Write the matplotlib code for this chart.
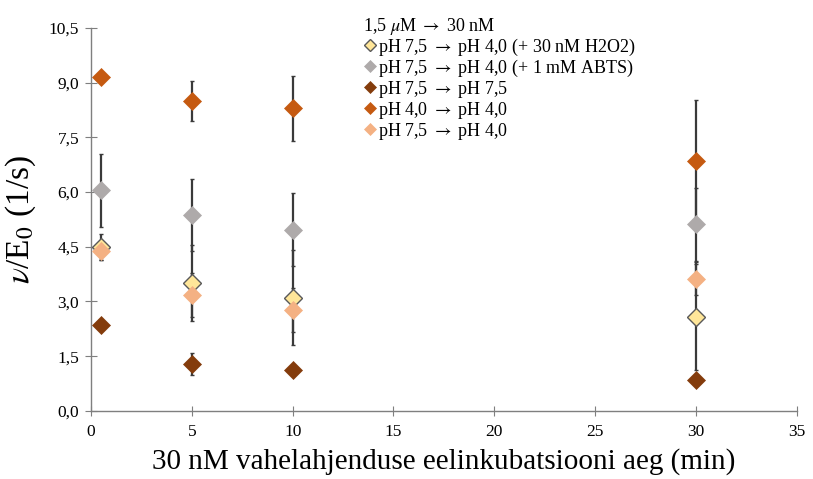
import matplotlib
matplotlib.use("Agg")
import matplotlib.pyplot as plt
from matplotlib.ticker import FuncFormatter, MultipleLocator

plt.rcParams['font.family'] = ['Liberation Serif', 'DejaVu Serif']
plt.rcParams['mathtext.fontset'] = 'stix'

x = [0.5, 5, 10, 30]

ARR = r"$\rightarrow$"
labels = [f"pH 7,5 {ARR} pH 4,0 (+ 30 nM H2O2)",
          f"pH 7,5 {ARR} pH 4,0 (+ 1 mM ABTS)",
          f"pH 7,5 {ARR} pH 7,5",
          f"pH 4,0 {ARR} pH 4,0",
          f"pH 7,5 {ARR} pH 4,0"]
legend_title = f"1,5 $\\mu$M {ARR} 30 nM"

y_h2o2 = [4.49, 3.51, 3.10, 2.58]
e_h2o2 = [0.35, 1.05, 1.30, 1.46]
y_abts = [6.05, 5.37, 4.96, 5.12]
e_abts = [1.00, 1.00, 1.00, 1.00]
y_75 = [2.36, 1.29, 1.12, 0.85]
e_75 = [0.0, 0.30, 0.0, 0.0]
y_40 = [9.15, 8.49, 8.30, 6.85]
e_40 = [0.0, 0.55, 0.89, 1.67]
y_7540 = [4.38, 3.18, 2.77, 3.62]
e_7540 = [0.25, 0.60, 0.60, 0.45]

series = [
    (y_h2o2, e_h2o2, "#FFE699", "#595959"),
    (y_abts, e_abts, "#AEAAAA", "#AEAAAA"),
    (y_75, e_75, "#843C0C", "#843C0C"),
    (y_40, e_40, "#C55A11", "#C55A11"),
    (y_7540, e_7540, "#F4B183", "#F4B183"),
]

fig = plt.figure(figsize=(8.13, 4.79), dpi=100)
ax = fig.add_axes([0.112, 0.142, 0.868, 0.800])

for (ys, es, fc, ec) in series:
    ax.errorbar(x, ys, yerr=es, fmt='none', ecolor='#3a3a3a', elinewidth=1.6,
                capsize=1.5, capthick=1.0, zorder=2)

handles = []
order_z = [4, 3, 3, 3, 5]
for (ys, es, fc, ec), lab, z in zip(series, labels, order_z):
    h = ax.plot(x, ys, linestyle='none', marker='D', markersize=9,
                markerfacecolor=fc, markeredgecolor=ec,
                markeredgewidth=1.0 if ec == "#595959" else 0.5,
                label=lab, zorder=z)[0]
    handles.append(h)

ax.set_xlim(0, 35)
ax.set_ylim(0, 10.5)
ax.xaxis.set_major_locator(MultipleLocator(5))
ax.yaxis.set_major_locator(MultipleLocator(1.5))
ax.yaxis.set_major_formatter(FuncFormatter(lambda v, p: f"{v:.1f}".replace('.', ',')))

for s in ['top', 'right']:
    ax.spines[s].set_visible(False)
for s in ['left', 'bottom']:
    ax.spines[s].set_color('#7f7f7f')
    ax.spines[s].set_linewidth(1.0)

ax.tick_params(axis='x', direction='inout', length=7, color='#7f7f7f', labelsize=12.5, pad=6)
ax.tick_params(axis='y', direction='inout', length=9, color='#7f7f7f', labelsize=12.5, pad=4)

ax.set_ylabel(r"$\nu$/E$_0$ (1/s)", fontsize=24, labelpad=8)
ax.set_xlabel("30 nM vahelahjenduse eelinkubatsiooni aeg (min)", fontsize=21, labelpad=6)

leg = ax.legend(handles=handles, labels=labels, title=legend_title,
                loc='upper left', bbox_to_anchor=(0.367, 1.065), frameon=False,
                fontsize=13, title_fontsize=13, handletextpad=0.05,
                handlelength=0.8, labelspacing=0.0, borderpad=0.2,
                markerscale=0.7)
leg._legend_box.align = "left"

fig.savefig("out.png", dpi=100)
